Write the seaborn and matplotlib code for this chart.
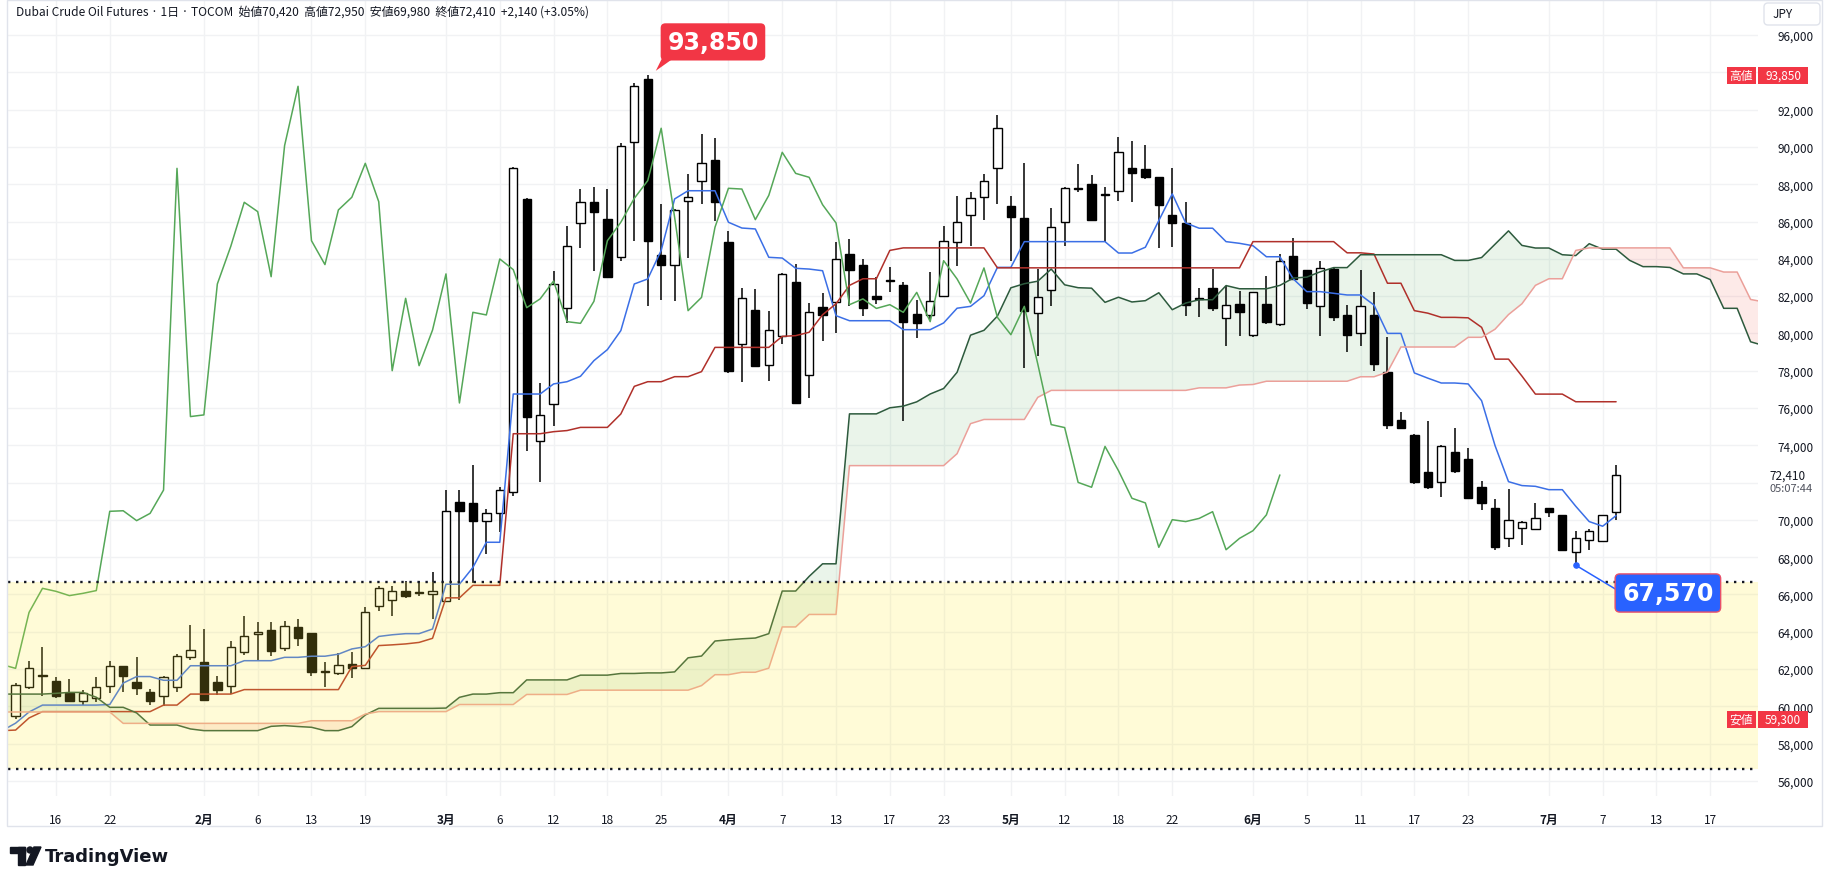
import numpy as np
import pandas as pd
import matplotlib
matplotlib.use("Agg")
import matplotlib.pyplot as plt
import matplotlib.transforms as mtransforms
from matplotlib.patches import Rectangle, FancyBboxPatch, Polygon, Circle
import seaborn as sns

# Dubai crude (TOCOM) daily candles, 13 Jan - 8 Jul, JPY
opens = [59470, 61020, 61680, 61380, 60720, 60310, 60470, 61090, 62150, 61290,
         60750, 60580, 61020, 62630, 62360, 61290, 61110, 62930, 63860, 64100,
         63110, 64240, 63920, 61860, 61770, 62270, 62040, 65400, 65720, 66170,
         66080, 66030, 65670, 70980, 70890, 69920, 70350, 71510, 87210, 74250,
         76210, 81340, 85920, 87030, 86130, 84080, 90250, 93640, 84200, 83690,
         87080, 88150, 89300, 84880, 79430, 81250, 78300, 79880, 82740, 77770,
         81400, 81700, 84260, 83670, 81990, 82850, 82600, 81020, 80990, 81990,
         84880, 86350, 87300, 88850, 86810, 86170, 81080, 82350, 85960, 87780,
         87990, 87480, 87620, 88850, 88820, 88370, 86350, 85920, 81880, 82420,
         80820, 81580, 79930, 81560, 80500, 84130, 83400, 81450, 83450, 80990,
         80000, 80990, 77950, 75360, 74550, 72550, 72010, 73620, 73270, 71750,
         70620, 69010, 69550, 69510, 70620, 70260, 68260, 68940, 68850, 70420]
highs = [61250, 62430, 63170, 61560, 61470, 60900, 61560, 62450, 62180, 62630,
         60930, 61610, 62810, 64360, 64150, 61610, 63520, 64830, 64510, 64510,
         64560, 64690, 63920, 62360, 62850, 62930, 65310, 66470, 66470, 66740,
         66740, 67190, 71600, 71600, 72940, 70580, 71750, 88900, 87250, 77340,
         83330, 85780, 87740, 87830, 87740, 90190, 93400, 93850, 86940, 86670,
         88550, 90690, 90460, 85510, 82430, 82380, 81220, 83240, 83720, 81630,
         82150, 84880, 85060, 83990, 83010, 83540, 82780, 81810, 83310, 85780,
         87390, 87560, 88550, 91710, 87350, 89120, 83450, 86720, 87830, 89080,
         88490, 87830, 90510, 90330, 90100, 88400, 88850, 87030, 82420, 83450,
         82560, 82290, 82200, 83060, 84260, 85100, 83400, 83860, 83540, 81520,
         83420, 82240, 79790, 75770, 74600, 75290, 74030, 74910, 73840, 72100,
         71120, 71660, 69960, 70910, 70620, 70260, 69390, 69510, 70280, 72950]
lows = [59300, 60930, 60540, 60430, 60270, 60070, 60220, 60720, 60790, 60610,
        60090, 60040, 60790, 62510, 60310, 60610, 60660, 62760, 62450, 62680,
        62990, 63220, 61650, 61020, 61680, 61500, 62000, 65130, 64860, 65790,
        65900, 64690, 65650, 65730, 66600, 68170, 69330, 71300, 73710, 72010,
        75050, 80560, 84560, 83360, 83010, 83900, 84970, 81450, 81810, 81760,
        84040, 86940, 86040, 77900, 77410, 78200, 77460, 79430, 76200, 76520,
        79570, 80000, 81490, 80950, 81580, 82200, 75320, 79740, 80740, 81930,
        83600, 84710, 86100, 86940, 83900, 78130, 78770, 81490, 84710, 87600,
        86100, 84880, 87120, 87030, 88280, 84560, 84620, 80950, 80860, 81220,
        79340, 79880, 79790, 80500, 80410, 82920, 81310, 79880, 80680, 78980,
        79340, 78000, 74870, 74940, 71930, 71660, 71210, 72510, 71160, 70550,
        68390, 68570, 68670, 69510, 70140, 68400, 67570, 68400, 68850, 69980]
closes = [61170, 62040, 61620, 60540, 60310, 60720, 61060, 62180, 61650, 60990,
          60310, 61560, 62720, 63040, 60360, 60900, 63170, 63760, 64010, 62990,
          64290, 63650, 61830, 61830, 62240, 62040, 65040, 66330, 66170, 65940,
          66060, 66210, 70460, 70490, 69960, 70350, 71600, 88850, 75540, 75630,
          82650, 84670, 87030, 86530, 83040, 90070, 93250, 84970, 83690, 86620,
          87300, 89120, 87060, 78000, 81880, 78270, 80180, 83190, 76270, 81130,
          80990, 83990, 83420, 81380, 81850, 82810, 80630, 80540, 81720, 84970,
          85960, 87240, 88190, 91000, 86220, 81220, 81930, 85690, 87780, 87740,
          86100, 87400, 89710, 88580, 88370, 86900, 85920, 81540, 81850, 81340,
          81540, 81130, 82200, 80630, 83900, 82920, 81630, 83510, 80860, 79930,
          81450, 78360, 75110, 74950, 72010, 71750, 73940, 72640, 71160, 70910,
          68530, 70010, 69910, 70080, 70440, 68400, 69010, 69420, 70270, 72410]

# Ichimoku lines, one value per bar, first value sits one bar left of the first candle
ichimoku_start = -1
tenkan = [58700, 59100, 59700, 60070, 60070, 60070, 60070, 60070, 60100, 61250,
          61600, 61600, 61400, 61400, 62180, 62180, 62180, 62180, 62450, 62450,
          62450, 62630, 62630, 62690, 62690, 62800, 63080, 63200, 63750, 63840,
          63900, 63900, 64150, 66550, 66550, 67450, 68800, 68800, 76750, 76750,
          76750, 77290, 77410, 77700, 78540, 79130, 80150, 82650, 82920, 84450,
          87210, 87650, 87650, 87650, 85960, 85650, 85600, 84080, 84040, 83490,
          83450, 83360, 80950, 80680, 80680, 80680, 80680, 80200, 80200, 80200,
          80560, 81350, 81450, 82020, 83540, 83540, 84920, 84920, 84920, 84920,
          84920, 84920, 84920, 84310, 84310, 84620, 86050, 87480, 85920, 85640,
          85640, 84920, 84830, 84700, 84110, 84110, 82920, 82240, 82240, 82150,
          82060, 82060, 81520, 80000, 80000, 77880, 77600, 77340, 77340, 77290,
          76390, 73980, 72050, 71840, 71800, 71620, 71620, 70730, 69910, 69660,
          70230]
kijun = [58700, 58730, 59380, 59720, 59720, 59720, 59720, 59720, 59720, 59720,
         59720, 59720, 60070, 60070, 60660, 60660, 60660, 60660, 60900, 60900,
         60900, 60900, 60900, 60900, 60900, 60900, 62130, 62200, 63260, 63300,
         63350, 63430, 63650, 65820, 65820, 66490, 66490, 66490, 74620, 74620,
         74620, 74730, 74790, 74960, 74960, 74960, 75680, 77160, 77410, 77410,
         77680, 77680, 77950, 79250, 79250, 79250, 79250, 79250, 79840, 79880,
         80060, 81000, 81590, 82575, 82930, 82930, 84450, 84585, 84585, 84585,
         84585, 84585, 84585, 84585, 83515, 83515, 83515, 83515, 83515, 83515,
         83515, 83515, 83515, 83515, 83515, 83515, 83515, 83515, 83515, 83515,
         83515, 83515, 83515, 84920, 84920, 84920, 84920, 84920, 84920, 84920,
         84320, 84320, 84255, 82690, 82690, 81220, 81085, 80860, 80860, 80835,
         80325, 78620, 78620, 77710, 76745, 76745, 76745, 76335, 76335, 76335,
         76335]
span_a = [60660, 60660, 60660, 60660, 60700, 60750, 60750, 60490, 59950, 59950,
          59650, 59000, 59000, 59000, 58790, 58700, 58700, 58700, 58700, 58700,
          58930, 58970, 58920, 58880, 58700, 58700, 58915, 59540, 59895, 59895,
          59895, 59895, 59895, 59910, 60485, 60660, 60660, 60735, 60735, 61420,
          61420, 61420, 61420, 61675, 61675, 61675, 61765, 61765, 61795, 61795,
          61850, 62605, 62700, 63505, 63570, 63625, 63665, 63900, 66185, 66185,
          66970, 67645, 67645, 75685, 75685, 75685, 76010, 76100, 76330, 76750,
          77045, 77915, 79905, 80165, 80930, 82445, 82665, 82800, 83450, 82605,
          82450, 82425, 81665, 81940, 81685, 81755, 82180, 81270, 81628, 81805,
          81805, 82565, 82393, 82393, 82393, 82573, 82968, 83018, 83303, 83528,
          83528, 84218, 84218, 84218, 84218, 84218, 84218, 84218, 83913, 83913,
          84068, 84783, 85498, 84718, 84578, 84578, 84218, 84173, 84810, 84515,
          84515, 83920, 83580, 83580, 83535, 83190, 83190, 82888, 81345, 81345,
          79550, 79343]
span_b = ([59700] * 9 + [59090] * 14 + [59230] * 4 + [59590] + [59720] * 6
          + [60100] * 5 + [60640] * 4 + [60870] * 9 + [61115] + [61700] * 2
          + [61830] * 2 + [62050] + [64260] * 2 + [64930] * 3 + [72910] * 8
          + [73550] + [75160] + [75385] * 4 + [76570] + [76945] * 11
          + [77080] * 3 + [77230] + [77260] + [77435] * 7 + [77675] * 2
          + [77925] + [79270] * 5 + [79790] * 2 + [80225] + [81010] + [81590]
          + [82575] + [82930] * 2 + [84450] + [84585] * 7 + [83515] * 3
          + [83290] * 2 + [81820, 81685])
lagging_shift = 25

tick_pos = [3, 7, 14, 18, 22, 26, 32, 36, 40, 44, 48, 53, 57, 61, 65, 69, 74,
            78, 82, 86, 92, 96, 100, 104, 108, 114, 118, 122, 126]
tick_labels = ['16', '22', '2月', '6', '13', '19', '3月', '6', '12', '18', '25',
               '4月', '7', '13', '17', '23', '5月', '12', '18', '22', '6月', '5',
               '11', '17', '23', '7月', '7', '13', '17']

range_low, range_high = 56620, 66690

# ---------------------------------------------------------------------------
W, H = 1827, 887
sns.set_theme(style="white")
plt.rcParams['font.family'] = ['Noto Sans CJK JP', 'DejaVu Sans']
TXT = '#131722'

fig = plt.figure(figsize=(W / 100, H / 100), dpi=100)
fig.patch.set_facecolor('white')
pane_l, pane_r, pane_t, pane_b = 8, 1758, 1, 797
ax = fig.add_axes([pane_l / W, 1 - pane_b / H, (pane_r - pane_l) / W, (pane_b - pane_t) / H])
ax.set_facecolor('white')

o, h, l, c = map(np.array, (opens, highs, lows, closes))
idx = np.arange(len(c))

# cloud
xs = np.arange(len(span_a)) + ichimoku_start
a, b = np.array(span_a), np.array(span_b)
ax.fill_between(xs, a, b, where=a >= b, interpolate=True, color=(0.26, 0.63, 0.28, 0.11), lw=0, zorder=1)
ax.fill_between(xs, a, b, where=a < b, interpolate=True, color=(0.96, 0.26, 0.21, 0.11), lw=0, zorder=1)

# candles
up = c >= o
ax.vlines(idx, l, h, color='black', lw=1.1, zorder=3)
ax.bar(idx, np.maximum(np.abs(c - o), 60), bottom=np.minimum(o, c), width=0.62,
       color=np.where(up, 'white', 'black'), edgecolor='black', linewidth=1.0, zorder=3.1)

# ichimoku lines
parts = [
    pd.DataFrame({'x': np.arange(len(tenkan)) + ichimoku_start, 'price': tenkan, 'line': 'tenkan'}),
    pd.DataFrame({'x': np.arange(len(kijun)) + ichimoku_start, 'price': kijun, 'line': 'kijun'}),
    pd.DataFrame({'x': xs, 'price': span_a, 'line': 'span_a'}),
    pd.DataFrame({'x': xs, 'price': span_b, 'line': 'span_b'}),
    pd.DataFrame({'x': idx[24:] - lagging_shift, 'price': c[24:], 'line': 'lagging'}),
]
lines_df = pd.concat(parts, ignore_index=True)
palette = {'tenkan': '#3B6FE6', 'kijun': '#B0302A', 'span_a': '#2D5A3D',
           'span_b': '#EBA09A', 'lagging': '#55A758'}
sns.lineplot(data=lines_df, x='x', y='price', hue='line', palette=palette,
             estimator=None, sort=False, linewidth=1.1, legend=False, ax=ax, zorder=4)

# yellow range box with dotted edges
x0, x1 = -0.565, 129.55
ax.add_patch(Rectangle((x0, range_low), x1 - x0, range_high - range_low,
                       facecolor=(1.0, 0.92, 0.23, 0.2), edgecolor='none', zorder=5))
ax.hlines([range_low, range_high], x0, x1, colors=TXT, linestyles=(0, (1, 2.4)), lw=1.7, zorder=5.5)

# axes
ax.set_xlim(x0, x1)
ax.set_ylim(55195, 97877)
ax.set_xlabel('')
ax.set_ylabel('')
for s in ax.spines.values():
    s.set_visible(False)
ax.set_xticks(tick_pos)
ax.set_xticklabels(tick_labels)
for t in ax.get_xticklabels():
    if '月' in t.get_text():
        t.set_fontweight('bold')
yt = list(range(56000, 96001, 2000))
ax.set_yticks(yt)
ax.set_yticklabels(['' if v in (72000, 94000) else f'{v:,}' for v in yt])
ax.tick_params(axis='x', bottom=False, labelbottom=True, pad=6, labelsize=8.5, labelcolor=TXT)
ax.tick_params(axis='y', left=False, right=False, labelleft=False, labelright=True,
               pad=8, labelsize=8.5, labelcolor=TXT)
ax.grid(True, color='#F1F2F4', lw=1.0)
ax.set_axisbelow(True)

# callouts for the high and low
i_hi = int(np.argmax(h))
i_lo = int(np.argmin(l[100:])) + 100
ax.add_patch(Polygon([(i_hi + 0.6, h[i_hi] + 230), (i_hi + 1.2, h[i_hi] + 1100), (i_hi + 2.3, h[i_hi] + 1100)],
                     closed=True, facecolor='#F23645', edgecolor='none', zorder=7, clip_on=False))
ax.text(i_hi + 4.85, h[i_hi] + 1780, f'{h[i_hi]:,}', ha='center', va='center', color='white',
        fontsize=17, fontweight='bold', family='DejaVu Sans', zorder=8, clip_on=False,
        bbox=dict(boxstyle='round,pad=0.28,rounding_size=0.2', fc='#F23645', ec='none'))
ax.plot([i_lo, i_lo + 3.0], [l[i_lo], l[i_lo] - 1300], color='#2962FF', lw=1.1, zorder=7)
ax.scatter([i_lo], [l[i_lo]], s=14, color='#2962FF', zorder=7.5)
ax.text(i_lo + 6.85, l[i_lo] - 1490, f'{l[i_lo]:,}', ha='center', va='center', color='white',
        fontsize=17, fontweight='bold', family='DejaVu Sans', zorder=8,
        bbox=dict(boxstyle='round,pad=0.3,rounding_size=0.2', fc='#2962FF', ec='#E8506A', lw=1.0))

# price scale tags
trans = mtransforms.blended_transform_factory(fig.transFigure, ax.transData)
tag_h = 17 * 53.62
for label, price in (('高値', h.max()), ('安値', l.min())):
    for px0, px1, s in ((1727, 1756, label), (1758, 1808, f'{price:,}')):
        ax.add_patch(Rectangle((px0 / W, price - tag_h / 2), (px1 - px0) / W, tag_h, transform=trans,
                               facecolor='#F23645', edgecolor='none', zorder=9, clip_on=False))
        ax.text((px0 + px1) / 2 / W, price, s, transform=trans, ha='center', va='center',
                color='white', fontsize=8.5, zorder=10, clip_on=False)
ax.text(1769 / W, c[-1], f'{c[-1]:,}', transform=trans, ha='left', va='center',
        color=TXT, fontsize=8.5, zorder=10, clip_on=False)
ax.text(1769 / W, c[-1] - 13 * 53.62, '05:07:44', transform=trans, ha='left', va='center',
        color='#50535E', fontsize=8, zorder=10, clip_on=False)

# header legend
chg = c[-1] - c[-2]
header = (f'Dubai Crude Oil Futures · 1日 · TOCOM  始値{o[-1]:,}  高値{h[-1]:,}  '
          f'安値{l[-1]:,}  終値{c[-1]:,}  +{chg:,} (+{chg / c[-2] * 100:.2f}%)')
fig.text(16 / W, 1 - 12 / H, header, ha='left', va='center', fontsize=8.6, color=TXT)

# widget frame, currency box, logo (pixel coordinates)
px = mtransforms.IdentityTransform()
fig.patches.append(Rectangle((7, H - 827), 1815, 826.5, transform=px, fill=False,
                             edgecolor='#E0E3EB', lw=1.0))
fig.patches.append(FancyBboxPatch((1764, H - 26), 56, 22, boxstyle='round,pad=0,rounding_size=4',
                                  transform=px, facecolor='white', edgecolor='#E0E3EB', lw=1.0))
fig.text(1773 / W, 1 - 15 / H, 'JPY', ha='left', va='center', fontsize=8.5, color=TXT)

logo = '#131722'
fig.patches.append(Rectangle((10, H - 854), 15, 6, transform=px, color=logo))
fig.patches.append(Rectangle((18, H - 866), 7, 18, transform=px, color=logo))
fig.patches.append(Circle((30, H - 851), 3, transform=px, color=logo))
fig.patches.append(Polygon([(34, H - 848), (41, H - 848), (33, H - 866), (26, H - 866)],
                           closed=True, transform=px, color=logo))
fig.text(45 / W, 1 - 857 / H, 'TradingView', ha='left', va='center', fontsize=13,
         fontweight='bold', family='DejaVu Sans', color=logo)

fig.savefig('out.png', dpi=100)
